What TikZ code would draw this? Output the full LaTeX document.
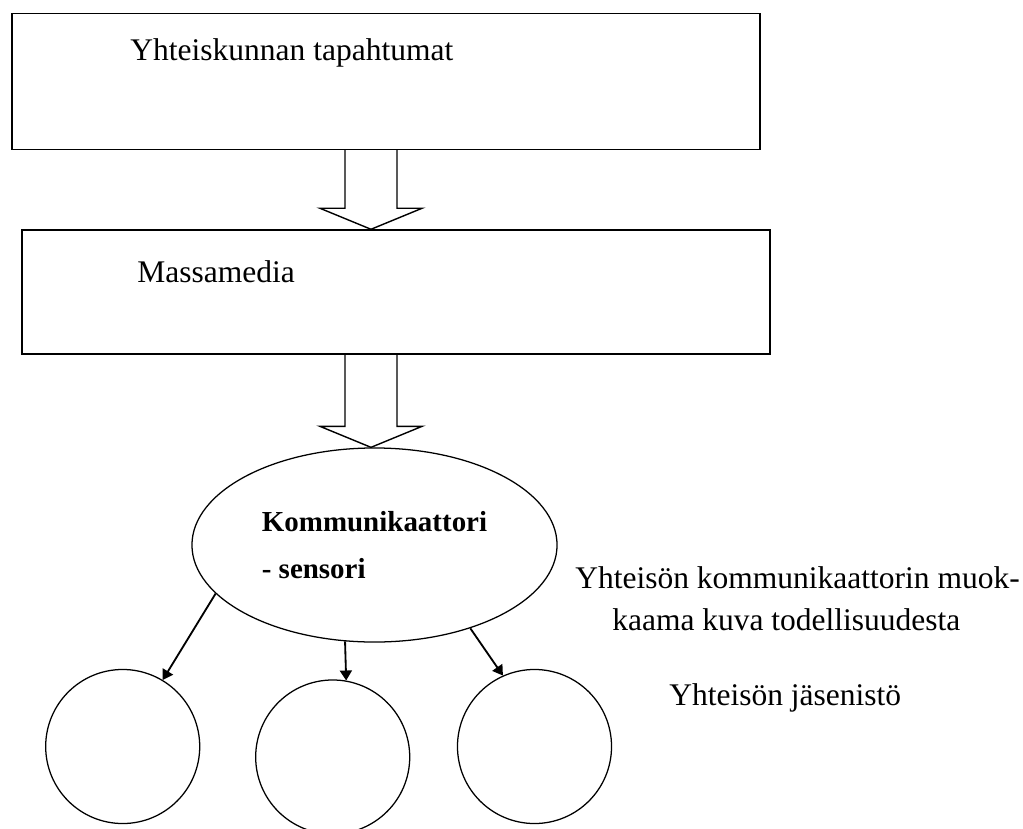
\documentclass[tikz,border=0pt]{standalone}
\usepackage{fontspec}
\setmainfont{Liberation Serif}
\usetikzlibrary{arrows.meta, calc, shapes.geometric}

\newcommand{\hollowarrow}[2]{%
    \draw[hollow] ($(#1)+(-26,0)$) -- ($(#2)+(-26,-21)$) -- ($(#2)+(-51,-21)$) -- (#2)
        -- ($(#2)+(51,-21)$) -- ($(#2)+(26,-21)$) -- ($(#1)+(26,0)$);}

\begin{document}
\begin{tikzpicture}[
    x=0.025cm,
    y=-0.025cm,
    box/.style={
        rectangle,
        draw,
        line width=1pt,
        inner sep=0pt
    },
    boxtext/.style={
        inner sep=0pt,
        font=\fontsize{22.4pt}{26pt}\selectfont
    },
    member/.style={
        circle,
        draw,
        line width=0.9pt,
        minimum size=3.85cm,
        inner sep=0pt
    },
    hollow/.style={line width=1pt, line join=miter},
    >={Triangle[length=0.25cm, width=0.3cm]}
]

\clip (0,0) rectangle (1023,828);

\node[box, minimum width=18.7cm, minimum height=3.4cm] (events) at (386,81.5) {};
\node[boxtext, anchor=base west] (eventstext) at ($(events.north west)+(119,48)$) {Yhteiskunnan tapahtumat};

\node[box, minimum width=18.7cm, minimum height=3.1cm] (media) at (396,292) {};
\node[boxtext, anchor=base west] (mediatext) at ($(media.north west)+(116,53)$) {Massamedia};

\node[ellipse, draw, line width=0.9pt, minimum width=9.125cm, minimum height=4.85cm,
    align=left, font=\fontsize{20.6pt}{33.4pt}\selectfont\bfseries] (sensor) at (374.5,545) {Kommunikaattori\\- sensori};

\node[member] (m1) at (122.7,746.5) {};
\node[member] (m2) at (332.7,757) {};
\node[member] (m3) at (534.5,746.5) {};

\node[boxtext, anchor=north west, align=left, font=\fontsize{22.4pt}{29.9pt}\selectfont] (viewtext) at (575,566.5)
    {Yhteisön kommunikaattorin muok-\\\hspace*{0.925cm}kaama kuva todellisuudesta};
\node[boxtext, anchor=base west] (memberstext) at (669,705) {Yhteisön jäsenistö};

\coordinate (axis) at (371,0);
\hollowarrow{events.south -| axis}{media.north -| axis}
\hollowarrow{media.south -| axis}{sensor.north -| axis}

\draw[->, line width=1.3pt] (sensor.197.7) -- (m1.59.5);
\draw[->, line width=1.3pt] (sensor.253.3) -- (m2.80.4);
\draw[->, line width=1.3pt] (sensor.319.5) -- (m3.114.7);

\end{tikzpicture}
\end{document}
